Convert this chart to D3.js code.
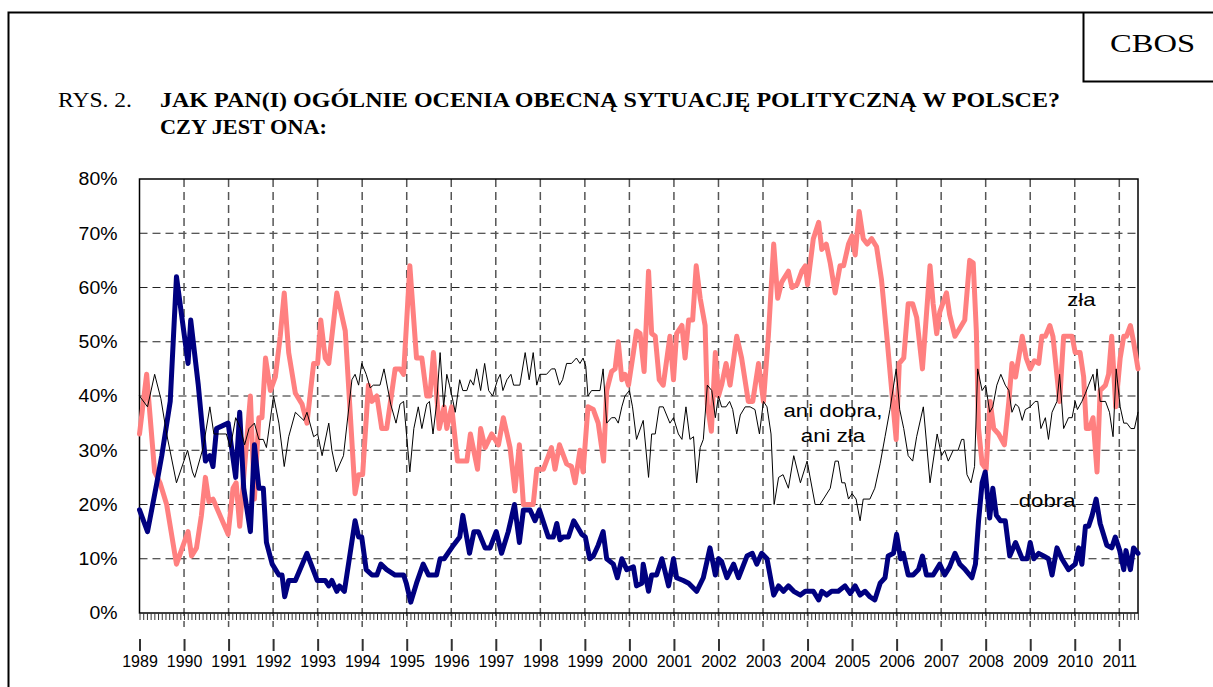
<!DOCTYPE html>
<html>
<head>
<meta charset="utf-8">
<script src="https://cdn.jsdelivr.net/npm/d3@7"></script>
<style>
  body { margin: 0; background: #fff; }
  svg { display: block; }
  .ytick text { font-family: Arial, "Liberation Sans", sans-serif; font-size: 18px; fill: #000; }
  .year text { font-family: Arial, "Liberation Sans", sans-serif; font-size: 16px; fill: #000; }
</style>
</head>
<body>
<div class="container"></div>
<script>
const width = 1213,
    height = 687;

// [year (decimal), percent]
const dobra = [[1989.00,19],[1989.18,15],[1989.39,24],[1989.50,29],[1989.69,39],[1989.83,62],[1990.09,46],[1990.15,54],[1990.32,42],[1990.48,28],[1990.58,29],[1990.65,27],[1990.73,34],[1990.99,35],[1991.16,25],[1991.25,37],[1991.34,23],[1991.49,15],[1991.58,31],[1991.68,23],[1991.78,23],[1991.85,13],[1991.98,9],[1992.13,7],[1992.20,7],[1992.26,3],[1992.35,6],[1992.50,6],[1992.76,11],[1992.99,6],[1993.17,6],[1993.25,5],[1993.32,6],[1993.43,4],[1993.49,5],[1993.60,4],[1993.84,17],[1993.92,14],[1993.99,14],[1994.09,8],[1994.22,7],[1994.33,7],[1994.42,9],[1994.55,8],[1994.74,7],[1994.93,7],[1994.99,5.5],[1995.09,2],[1995.22,5.5],[1995.37,9],[1995.49,7],[1995.67,7],[1995.75,10],[1995.84,10],[1996.05,12.5],[1996.19,14],[1996.26,18],[1996.41,11],[1996.51,15],[1996.61,15],[1996.76,12],[1996.87,12],[1997.01,15],[1997.13,11],[1997.28,15],[1997.42,20],[1997.53,13],[1997.62,19],[1997.77,19],[1997.88,17],[1997.98,19],[1998.08,16.5],[1998.18,14],[1998.29,14],[1998.37,16.5],[1998.44,13.5],[1998.51,14],[1998.63,14],[1998.75,17],[1998.93,14.5],[1999.01,14],[1999.11,10],[1999.19,10.5],[1999.30,12.5],[1999.41,15],[1999.49,10],[1999.64,9],[1999.73,6.5],[1999.83,10],[1999.94,8],[2000.09,8.5],[2000.16,5],[2000.28,5.5],[2000.31,9],[2000.43,4],[2000.50,7],[2000.61,7],[2000.73,10],[2000.88,5],[2000.99,10],[2001.06,6.5],[2001.21,6],[2001.33,5.5],[2001.51,4],[2001.66,6.5],[2001.81,12],[2001.93,7],[2002.00,10],[2002.07,9.5],[2002.19,6.5],[2002.34,9],[2002.45,6.5],[2002.64,10.5],[2002.76,11],[2002.86,9],[2002.97,11],[2003.09,10],[2003.24,3.3],[2003.35,5],[2003.46,4],[2003.57,5],[2003.69,4],[2003.84,3.3],[2003.95,4],[2004.13,4],[2004.25,2.4],[2004.32,4],[2004.43,3.3],[2004.54,4],[2004.69,4],[2004.84,5],[2004.96,3.6],[2005.07,5],[2005.18,3.3],[2005.29,4],[2005.40,3],[2005.51,2.4],[2005.63,5.5],[2005.74,6.5],[2005.81,10.5],[2005.93,11],[2006.00,14.5],[2006.09,10],[2006.15,11],[2006.26,7],[2006.37,7],[2006.49,8],[2006.58,10.5],[2006.67,7],[2006.82,7],[2006.97,9],[2007.08,7],[2007.19,8.5],[2007.31,11],[2007.42,9],[2007.54,8],[2007.69,6.5],[2007.77,9],[2007.84,17],[2007.92,24],[2007.99,26],[2008.09,17.5],[2008.16,23],[2008.24,18],[2008.33,17],[2008.44,17],[2008.54,10.5],[2008.67,13],[2008.82,10],[2008.93,10],[2009.00,13],[2009.08,10],[2009.19,11],[2009.30,10.5],[2009.41,10],[2009.49,7],[2009.60,12],[2009.71,10],[2009.86,8],[2010.01,9],[2010.09,12],[2010.16,9],[2010.24,16],[2010.31,16],[2010.39,18],[2010.48,21],[2010.57,16.5],[2010.72,12.5],[2010.83,12],[2010.91,14],[2011.01,11.5],[2011.10,8],[2011.15,11.5],[2011.25,8],[2011.32,12],[2011.42,11]];

const zla = [[1989.00,33],[1989.16,44],[1989.34,26],[1989.46,24],[1989.61,20],[1989.83,9],[1990.09,15],[1990.17,10.5],[1990.28,12],[1990.39,18],[1990.48,25],[1990.56,20.5],[1990.65,21],[1990.99,14.5],[1991.10,23],[1991.17,24],[1991.25,16],[1991.49,40],[1991.58,21],[1991.68,36],[1991.75,36],[1991.83,47],[1991.94,41],[1992.05,43.5],[1992.16,51],[1992.25,59],[1992.35,48],[1992.50,40.5],[1992.65,38.5],[1992.76,35],[1992.91,46],[1993.00,46],[1993.07,54],[1993.17,47],[1993.25,46],[1993.43,59],[1993.62,52],[1993.84,22],[1993.92,25.5],[1994.01,25.5],[1994.14,42],[1994.22,39],[1994.33,40],[1994.44,34],[1994.55,34],[1994.74,45],[1994.85,45],[1994.93,44],[1995.07,64],[1995.22,47],[1995.34,47],[1995.45,40],[1995.52,40],[1995.60,48],[1995.73,34],[1995.84,38],[1995.90,34],[1996.01,38],[1996.14,28],[1996.35,28],[1996.43,33],[1996.59,26.5],[1996.66,34],[1996.76,30.5],[1996.91,33],[1997.06,31],[1997.17,36],[1997.32,30.5],[1997.43,22.5],[1997.53,31],[1997.62,20],[1997.84,20],[1997.92,26.5],[1998.07,26.5],[1998.25,30.5],[1998.33,26.5],[1998.43,31],[1998.59,27.5],[1998.70,27],[1998.78,24],[1998.89,30],[1998.96,26],[1999.07,38],[1999.19,37.5],[1999.30,35],[1999.42,28],[1999.49,41],[1999.60,44.5],[1999.68,45],[1999.75,50],[1999.83,43],[1999.90,44],[1999.98,42],[2000.09,48],[2000.16,52],[2000.24,51.5],[2000.33,44.5],[2000.43,63],[2000.50,51.5],[2000.58,51],[2000.67,43],[2000.76,42],[2000.91,51],[2000.99,43],[2001.06,51.5],[2001.18,53],[2001.25,47],[2001.33,54],[2001.42,54],[2001.50,64],[2001.59,58],[2001.70,53],[2001.75,38.5],[2001.84,33.5],[2001.93,48],[2002.00,40],[2002.07,42],[2002.17,46],[2002.26,42],[2002.41,51],[2002.52,47],[2002.67,39],[2002.77,39],[2002.90,46],[2003.01,39],[2003.12,51],[2003.24,68],[2003.33,58],[2003.42,61],[2003.57,63],[2003.65,60],[2003.76,60.5],[2003.87,63],[2003.95,64],[2004.00,60.5],[2004.13,69],[2004.25,72],[2004.32,67],[2004.42,68],[2004.51,64.5],[2004.62,59],[2004.73,64],[2004.81,64],[2004.92,68],[2005.00,69.5],[2005.07,66],[2005.16,74],[2005.25,69],[2005.34,68],[2005.44,69],[2005.55,67.5],[2005.66,61.5],[2005.78,51],[2005.89,41],[2005.99,32],[2006.06,46],[2006.16,47],[2006.26,57],[2006.36,57],[2006.45,54.5],[2006.58,45],[2006.75,64],[2006.82,57],[2006.90,51.5],[2006.97,55.5],[2007.12,59],[2007.19,55],[2007.31,51],[2007.42,52.5],[2007.53,54],[2007.64,65],[2007.72,64.5],[2007.79,52],[2007.84,34],[2007.92,27.5],[2008.01,26.5],[2008.10,39],[2008.18,34],[2008.29,33],[2008.42,31],[2008.52,39],[2008.59,46],[2008.67,43.5],[2008.82,51],[2008.91,47],[2009.00,45],[2009.09,46.5],[2009.19,46],[2009.26,51],[2009.34,51],[2009.44,53],[2009.51,51],[2009.66,39],[2009.75,51],[2009.86,51],[2009.94,51],[2010.01,48],[2010.12,48],[2010.20,43.5],[2010.26,34],[2010.33,34],[2010.41,36],[2010.50,26],[2010.57,41],[2010.69,42],[2010.76,44],[2010.83,51],[2010.92,38],[2011.02,47],[2011.10,51],[2011.16,51],[2011.25,53],[2011.32,50],[2011.42,45]];

const ani = [[1989.00,40],[1989.18,38],[1989.34,44],[1989.48,39.5],[1989.61,33],[1989.83,24],[1990.08,30],[1990.19,26],[1990.24,25],[1990.43,30.5],[1990.58,38],[1990.67,33],[1990.80,33],[1990.95,33],[1991.04,30.5],[1991.16,36],[1991.27,34],[1991.36,31],[1991.46,34],[1991.58,35],[1991.68,32],[1991.78,32],[1991.85,30.5],[1992.01,40],[1992.13,35],[1992.25,27],[1992.35,32.5],[1992.50,37],[1992.69,35.5],[1992.76,37],[1992.91,32.5],[1993.00,33],[1993.10,29],[1993.25,35],[1993.32,30],[1993.42,26],[1993.58,29],[1993.77,43],[1993.84,44],[1993.92,42],[1993.99,46],[1994.09,44],[1994.18,41.5],[1994.25,42],[1994.40,42],[1994.49,45],[1994.64,38.5],[1994.76,35],[1994.85,38.5],[1994.93,39],[1995.07,26],[1995.16,34],[1995.26,38],[1995.34,34],[1995.45,38.5],[1995.51,39],[1995.59,33],[1995.67,38.5],[1995.75,48],[1995.83,38],[1995.90,44],[1995.96,42],[1996.04,39],[1996.09,37],[1996.19,43],[1996.26,41],[1996.35,41],[1996.43,43],[1996.50,42],[1996.57,45],[1996.66,41],[1996.75,46],[1996.84,41],[1996.93,40],[1997.04,43],[1997.10,44],[1997.16,41],[1997.25,43],[1997.34,44],[1997.40,42],[1997.54,42],[1997.66,48],[1997.75,43],[1997.84,48],[1997.92,42],[1997.99,44],[1998.14,44],[1998.25,45],[1998.33,45],[1998.43,42],[1998.50,43],[1998.59,46],[1998.70,46],[1998.81,47],[1998.89,46],[1998.96,47],[1999.02,45.5],[1999.07,40],[1999.15,41],[1999.34,41],[1999.41,45],[1999.49,35],[1999.60,36],[1999.68,36],[1999.75,35],[1999.83,38],[1999.90,40],[2000.00,41],[2000.07,38],[2000.16,32],[2000.31,35.5],[2000.43,25],[2000.50,33],[2000.58,33],[2000.67,38],[2000.76,38],[2000.91,35],[2000.99,36],[2001.10,33],[2001.18,32],[2001.27,38],[2001.36,32],[2001.44,32.5],[2001.51,24],[2001.59,30.5],[2001.66,32],[2001.75,42],[2001.85,41],[2001.93,36],[2002.00,40],[2002.07,38],[2002.17,38],[2002.25,39],[2002.32,37.5],[2002.41,33],[2002.49,36.5],[2002.60,38],[2002.71,38],[2002.82,37.5],[2002.92,33],[2003.01,39],[2003.09,38],[2003.18,33],[2003.25,20],[2003.35,25],[2003.45,25.5],[2003.57,23],[2003.69,29],[2003.84,24],[2003.99,28],[2004.17,20],[2004.28,20],[2004.51,23],[2004.62,28],[2004.69,28],[2004.77,24],[2004.84,24],[2004.92,21],[2005.00,22],[2005.09,21],[2005.18,17],[2005.25,21],[2005.40,21],[2005.51,23],[2005.63,27.5],[2005.74,32.5],[2005.85,37.5],[2005.99,45],[2006.07,37.5],[2006.16,34],[2006.26,29],[2006.36,28],[2006.45,32.5],[2006.60,38],[2006.75,24],[2006.91,33],[2007.01,29],[2007.08,30],[2007.16,28],[2007.27,30],[2007.38,30],[2007.46,32],[2007.51,32],[2007.58,25.5],[2007.67,24],[2007.75,27],[2007.82,45],[2007.92,41],[2008.00,42],[2008.09,37],[2008.16,38],[2008.25,42],[2008.34,44],[2008.44,42],[2008.52,41],[2008.59,37],[2008.67,38.5],[2008.74,38],[2008.82,35.5],[2008.89,37.5],[2009.00,38],[2009.11,39],[2009.17,39],[2009.24,34],[2009.34,36],[2009.41,32],[2009.49,37],[2009.60,39],[2009.66,44],[2009.75,34],[2009.86,36],[2009.94,36],[2010.01,39],[2010.06,37.5],[2010.16,39],[2010.24,40.5],[2010.31,42],[2010.41,44],[2010.46,41],[2010.50,45],[2010.57,39],[2010.69,39],[2010.78,37],[2010.86,32.5],[2010.93,45],[2011.02,38],[2011.10,35],[2011.17,35],[2011.26,34],[2011.34,34],[2011.42,37]];

const years = d3.range(1989, 2012);
const yTicks = [0, 10, 20, 30, 40, 50, 60, 70, 80];
const labels = [
    {text: ['zła'], at: [2010.15, 56.5]},
    {text: ['ani dobra,', 'ani zła'], at: [2004.57, 36.2]},
    {text: ['dobra'], at: [2009.38, 19.6]}
];

const plotLeft = 139.5, plotRight = 1138, plotTop = 179, plotBottom = 613;

const x = d3.scaleLinear().domain([1989, 2011.42]).range([plotLeft, plotRight]);
const y = d3.scaleLinear().domain([0, 80]).range([plotBottom, plotTop]);

// the source picture is a little wider than tall, so text gets stretched sideways
function stretch(sel, k) {
    sel.each(function() {
        const w = this.getComputedTextLength();
        d3.select(this).attr('textLength', w * k).attr('lengthAdjust', 'spacingAndGlyphs');
    });
}

const svg = d3.select('.container')
    .append('svg')
    .attr('width', width)
    .attr('height', height);

// page frame and CBOS box
svg.append('path')
    .attr('d', `M8.5,${height} V12.5 H${width}`)
    .attr('fill', 'none').attr('stroke', '#000').attr('stroke-width', 2);
svg.append('path')
    .attr('d', `M1083.5,12.5 V81.5 H${width}`)
    .attr('fill', 'none').attr('stroke', '#000').attr('stroke-width', 2);
svg.append('text')
    .attr('x', 1110).attr('y', 52)
    .style('font-family', '"Liberation Serif", "Times New Roman", serif')
    .style('font-size', '25px')
    .attr('textLength', 85).attr('lengthAdjust', 'spacingAndGlyphs')
    .text('CBOS');

// title
const serif = '"Liberation Serif", "Times New Roman", serif';
svg.append('text')
    .attr('x', 58).attr('y', 107)
    .style('font-family', serif).style('font-size', '22px')
    .attr('textLength', 74).attr('lengthAdjust', 'spacingAndGlyphs')
    .text('RYS. 2.');
svg.append('text')
    .attr('x', 160).attr('y', 107)
    .style('font-family', serif).style('font-size', '22px').style('font-weight', 'bold')
    .attr('textLength', 900).attr('lengthAdjust', 'spacingAndGlyphs')
    .text('JAK PAN(I) OGÓLNIE OCENIA OBECNĄ SYTUACJĘ POLITYCZNĄ W POLSCE?');
svg.append('text')
    .attr('x', 160).attr('y', 134)
    .style('font-family', serif).style('font-size', '22px').style('font-weight', 'bold')
    .attr('textLength', 167).attr('lengthAdjust', 'spacingAndGlyphs')
    .text('CZY JEST ONA:');

// gridlines
svg.append('g')
    .selectAll('line')
    .data(yTicks.filter(d => d > 0 && d < 80))
    .enter()
    .append('line')
    .attr('x1', plotLeft).attr('x2', plotRight)
    .attr('y1', d => y(d)).attr('y2', d => y(d))
    .attr('stroke', '#222').attr('stroke-width', 1)
    .attr('stroke-dasharray', '8,5');

svg.append('g')
    .selectAll('line')
    .data(years.filter(d => d > 1989))
    .enter()
    .append('line')
    .attr('x1', d => x(d)).attr('x2', d => x(d))
    .attr('y1', plotTop).attr('y2', plotBottom + 14)
    .attr('stroke', '#555').attr('stroke-width', 1.5)
    .attr('stroke-dasharray', '8,5');

// plot box
svg.append('rect')
    .attr('x', plotLeft).attr('y', plotTop)
    .attr('width', plotRight - plotLeft).attr('height', plotBottom - plotTop)
    .attr('fill', 'none').attr('stroke', '#000').attr('stroke-width', 1.5);

// monthly minor ticks
const months = d3.range(0, Math.floor((2011.42 - 1989) * 12) + 1).map(m => 1989 + m / 12);
svg.append('g')
    .attr('transform', `translate(0, ${plotBottom})`)
    .call(d3.axisBottom(x).tickValues(months).tickSize(7).tickFormat(''))
    .call(g => g.select('.domain').remove())
    .call(g => g.selectAll('line').attr('stroke', '#333'));

// year labels with their own tick marks
svg.append('g')
    .attr('class', 'year')
    .attr('transform', `translate(0, ${plotBottom + 26})`)
    .call(d3.axisBottom(x).tickValues(years.filter(d => d <= 2011)).tickSize(12).tickPadding(5).tickFormat(d3.format('d')))
    .call(g => g.select('.domain').remove())
    .call(g => g.selectAll('line').attr('stroke', '#333').attr('stroke-width', 2));

// y labels
svg.append('g')
    .attr('class', 'ytick')
    .attr('transform', `translate(${plotLeft}, 0)`)
    .call(d3.axisLeft(y).tickValues(yTicks).tickSize(0).tickPadding(22).tickFormat(d => d + '%'))
    .call(g => g.select('.domain').remove())
    .call(g => stretch(g.selectAll('text'), 1.08));

// series
const line = d3.line()
    .x(d => x(d[0]))
    .y(d => y(d[1]));

const series = [
    {data: zla, color: '#ff8080', w: 5},
    {data: dobra, color: '#000080', w: 5},
    {data: ani, color: '#000000', w: 1}
];

svg.append('g')
    .selectAll('path')
    .data(series)
    .enter()
    .append('path')
    .attr('d', d => line(d.data))
    .attr('fill', 'none')
    .attr('stroke', d => d.color)
    .attr('stroke-width', d => d.w)
    .attr('stroke-linejoin', 'round')
    .attr('stroke-linecap', 'round');

// series labels
labels.forEach(l => {
    const t = svg.append('text')
        .attr('x', x(l.at[0])).attr('y', y(l.at[1]))
        .attr('text-anchor', 'middle')
        .style('font-family', 'Arial, "Liberation Sans", sans-serif')
        .style('font-size', '19px');
    l.text.forEach((s, i) => {
        t.append('tspan')
            .attr('x', x(l.at[0]))
            .attr('dy', i === 0 ? 0 : 25)
            .text(s);
    });
    stretch(t.selectAll('tspan'), 1.17);
});
</script>
</body>
</html>
